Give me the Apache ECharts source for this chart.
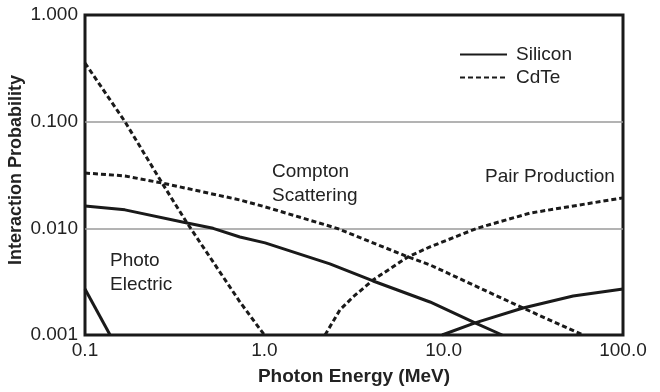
<!DOCTYPE html>
<html>
<head>
<meta charset="utf-8">
<script src="https://cdn.jsdelivr.net/npm/echarts@6/dist/echarts.min.js"></script>
<style>
  html, body { margin: 0; padding: 0; background: #fff; }
  #chart { width: 660px; height: 392px; }
</style>
</head>
<body>
<div id="chart"></div>
<script>
// tick labels (one per decade)
const xTickLabels = ["0.1", "1.0", "10.0", "100.0"];
const yTickLabels = ["0.001", "0.010", "0.100", "1.000"];

// [photon energy MeV, interaction probability]
const siPhoto = [[0.1, 0.0027], [0.138, 0.001]];
const siCompton = [
  [0.1, 0.0162], [0.167, 0.0149], [0.371, 0.0112], [0.518, 0.0100], [0.731, 0.0083],
  [1.01, 0.0073], [2.32, 0.00464], [4.04, 0.00321], [8.39, 0.00204], [14.96, 0.0013], [21.2, 0.001]
];
const siPair = [[9.8, 0.001], [14.96, 0.0013], [27.7, 0.00179], [52.7, 0.00232], [100, 0.0027]];

const cdtePhoto = [[0.1, 0.355], [0.167, 0.1], [0.269, 0.0266], [0.371, 0.0112], [0.731, 0.00204], [1.0, 0.001]];
const cdteCompton = [
  [0.1, 0.033], [0.167, 0.031], [0.269, 0.0266], [0.731, 0.01845], [1.01, 0.0159],
  [2.54, 0.0100], [6.32, 0.0054], [8.39, 0.00454], [27.7, 0.00179], [59.8, 0.001]
];
const cdtePair = [
  [2.18, 0.001], [2.64, 0.00172], [3.13, 0.00228], [4.04, 0.00328], [6.32, 0.0054],
  [8.39, 0.0067], [15.3, 0.0100], [30.3, 0.0139], [100, 0.0193]
];

const textColor = "#222";
const lineColor = "#1a1a1a";
const font = "19px Liberation Sans, Arial, sans-serif";

function curve(name, data, dashed) {
  return {
    name: name,
    type: "line",
    data: data,
    symbol: "none",
    lineStyle: {
      color: lineColor,
      width: 3,
      type: dashed ? [5, 3] : "solid"
    },
    itemStyle: { color: lineColor },
    emphasis: { disabled: true }
  };
}

const chart = echarts.init(document.getElementById("chart"));
chart.setOption({
  animation: false,
  textStyle: { fontFamily: "Liberation Sans, Arial, sans-serif" },
  grid: {
    left: 85, right: 37, top: 15, bottom: 57,
    containLabel: false,
    outerBoundsMode: "none",
    show: true,
    borderColor: "#1a1a1a",
    borderWidth: 3
  },
  legend: {
    data: ["Silicon", "CdTe"],
    orient: "vertical",
    left: 454,
    top: 40,
    itemWidth: 47,
    itemHeight: 14,
    itemGap: 4,
    itemStyle: { opacity: 0 },
    textStyle: { fontSize: 19, color: textColor, padding: [0, 0, 0, 4] },
    selectedMode: false
  },
  xAxis: {
    type: "log",
    logBase: 10,
    min: 0.1,
    max: 100,
    name: "Photon Energy (MeV)",
    nameLocation: "middle",
    nameGap: 32,
    nameMoveOverlap: false,
    nameTextStyle: { fontSize: 19, fontWeight: "bold", color: textColor },
    axisLine: { show: false },
    axisTick: { show: false },
    splitLine: { show: false },
    axisLabel: {
      fontSize: 19,
      color: textColor,
      margin: 6,
      formatter: v => xTickLabels[Math.round(Math.log10(v)) + 1]
    }
  },
  yAxis: {
    type: "log",
    logBase: 10,
    min: 0.001,
    max: 1,
    name: "Interaction Probability",
    nameLocation: "middle",
    nameGap: 60,
    nameMoveOverlap: false,
    nameTextStyle: { fontSize: 18, fontWeight: "bold", color: textColor, padding: [0, 0, 0, 10] },
    axisLine: { show: false },
    axisTick: { show: false },
    splitLine: {
      show: true,
      showMinLine: false,
      showMaxLine: false,
      lineStyle: { color: "#9a9a9a", width: 1.5 }
    },
    axisLabel: {
      fontSize: 19,
      color: textColor,
      margin: 7,
      formatter: v => yTickLabels[Math.round(Math.log10(v)) + 3]
    }
  },
  graphic: [
    { type: "text", left: 272, top: 160, style: { text: "Compton\nScattering", font: font, fill: textColor, lineHeight: 24 } },
    { type: "text", left: 485, top: 167, style: { text: "Pair Production", font: font, fill: textColor } },
    { type: "text", left: 110, top: 249, style: { text: "Photo\nElectric", font: font, fill: textColor, lineHeight: 24 } }
  ],
  series: [
    curve("Silicon", siPhoto, false),
    curve("Silicon", siCompton, false),
    curve("Silicon", siPair, false),
    curve("CdTe", cdtePhoto, true),
    curve("CdTe", cdteCompton, true),
    curve("CdTe", cdtePair, true)
  ]
});
</script>
</body>
</html>
